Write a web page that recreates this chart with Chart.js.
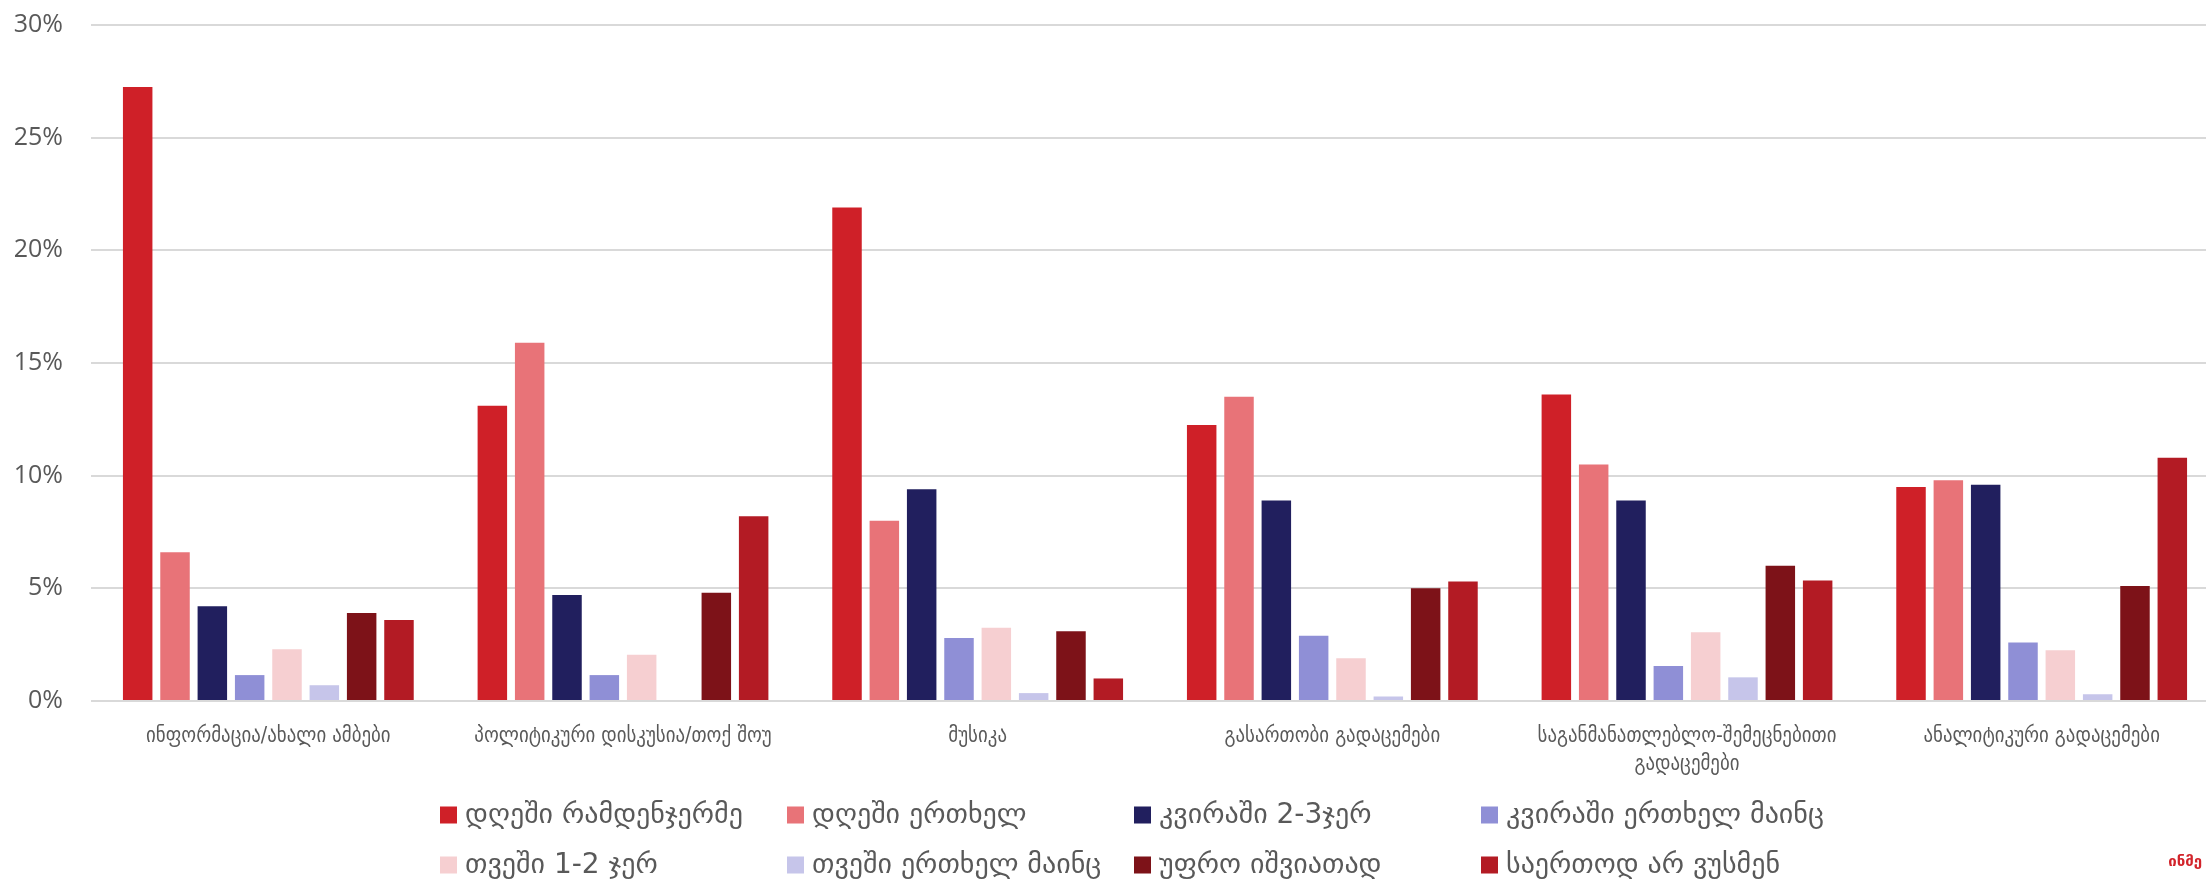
<!DOCTYPE html>
<html>
<head>
<meta charset="utf-8">
<script src="https://cdn.jsdelivr.net/npm/chart.js@4"></script>
<style>
  html, body { margin: 0; padding: 0; background: #fff; overflow: hidden; }
  #wrap { width: 2206px; height: 884px; overflow: hidden; }
</style>
</head>
<body>
<div id="wrap"><canvas id="canvas-1" width="2219" height="884"></canvas></div>
<script>
const categories = [
  'ინფორმაცია/ახალი ამბები',
  'პოლიტიკური დისკუსია/თოქ შოუ',
  'მუსიკა',
  'გასართობი გადაცემები',
  ['საგანმანათლებლო-შემეცნებითი', 'გადაცემები'],
  'ანალიტიკური გადაცემები'
]
const seriesNames = [
  'დღეში რამდენჯერმე', 'დღეში ერთხელ', 'კვირაში 2-3ჯერ', 'კვირაში ერთხელ მაინც',
  'თვეში 1-2 ჯერ', 'თვეში ერთხელ მაინც', 'უფრო იშვიათად', 'საერთოდ არ ვუსმენ'
]
const seriesColors = ['#cf2028', '#e87378', '#211f5e', '#8f8fd6', '#f6cfd1', '#c6c5ea', '#7d1218', '#b31b24']

// values in %, one array per answer option, in category order
const severalDaily = [27.25, 13.1, 21.9, 12.25, 13.6, 9.5]
const onceDaily = [6.6, 15.9, 8.0, 13.5, 10.5, 9.8]
const weekly23 = [4.2, 4.7, 9.4, 8.9, 8.9, 9.6]
const weeklyOnce = [1.15, 1.15, 2.8, 2.9, 1.55, 2.6]
const monthly12 = [2.3, 2.05, 3.25, 1.9, 3.05, 2.25]
const monthlyOnce = [0.7, 0, 0.35, 0.2, 1.05, 0.3]
const rarer = [3.9, 4.8, 3.1, 5.0, 6.0, 5.1]
const never = [3.6, 8.2, 1.0, 5.3, 5.35, 10.8]
const seriesValues = [severalDaily, onceDaily, weekly23, weeklyOnce, monthly12, monthlyOnce, rarer, never]

const yTicks = [0, 5, 10, 15, 20, 25, 30]

const textColor = '#595959'
const geoFont = "'DejaVu Sans', 'Noto Sans', sans-serif"
const geoNarrow = "'DejaVu Sans Condensed', 'DejaVu Sans', sans-serif"

// legend in a fixed 4 x 2 grid under the plot, like the original
const gridLegend = {
  id: 'gridLegend',
  afterDraw(chart) {
    const c = chart.ctx
    c.save()
    c.font = '28px ' + geoFont
    c.textBaseline = 'middle'
    c.textAlign = 'left'
    chart.data.datasets.forEach((ds, i) => {
      const col = i % 4, row = Math.floor(i / 4)
      const x = 440 + col * 347
      const y = 815 + row * 50
      c.fillStyle = ds.backgroundColor
      c.fillRect(x, y - 8.5, 17, 17)
      c.fillStyle = textColor
      c.fillText(ds.label, x + 25, y + 1)
    })
    // small logo, bottom right
    c.fillStyle = '#d2232a'
    c.font = 'bold 15px ' + geoFont
    c.textAlign = 'right'
    c.fillText('ინმე', 2202, 862)
    c.restore()
  }
}

const barChart = new Chart(document.getElementById('canvas-1'), {
  type: 'bar',
  data: {
    labels: categories,
    datasets: seriesNames.map((name, i) => ({
      label: name,
      data: seriesValues[i],
      backgroundColor: seriesColors[i],
      borderWidth: 0,
      barPercentage: 0.79,
      categoryPercentage: 0.842
    }))
  },
  options: {
    responsive: false,
    animation: false,
    layout: {
      padding: { top: 25, left: 0, right: 0, bottom: 0 }
    },
    plugins: {
      legend: { display: false },
      tooltip: { enabled: false }
    },
    scales: {
      x: {
        grid: { display: false },
        border: { display: false },
        ticks: {
          color: textColor,
          padding: 13,
          maxRotation: 0,
          autoSkip: false,
          font: { size: 21, family: geoNarrow, lineHeight: 1.35 }
        },
        afterFit(scale) { scale.height = 183 }
      },
      y: {
        min: 0,
        max: 30,
        afterBuildTicks(scale) { scale.ticks = yTicks.map(v => ({ value: v })) },
        grid: { color: '#d9d9d9', lineWidth: 2, drawTicks: false },
        border: { display: false },
        ticks: {
          color: textColor,
          padding: 28,
          font: { size: 25, family: "'Open Sans', sans-serif" },
          callback: v => v + '%'
        },
        afterFit(scale) {
          scale.width = 91
          scale.paddingTop = 0
        }
      }
    }
  },
  plugins: [gridLegend]
});
</script>
</body>
</html>
